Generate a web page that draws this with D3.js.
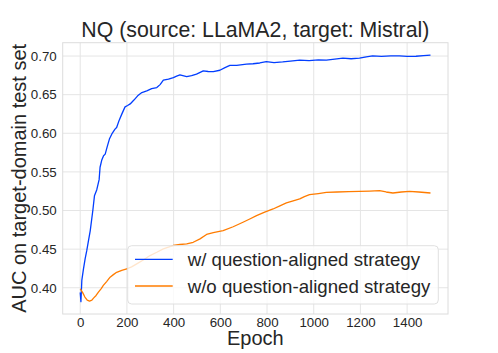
<!DOCTYPE html>
<html><head><meta charset="utf-8">
<script src="https://cdn.jsdelivr.net/npm/d3@7"></script>
<style>
html,body{margin:0;padding:0;background:#fff;}
text{font-family:"Liberation Sans",Arial,sans-serif;fill:#262626;}
</style></head>
<body><svg id="c" width="498" height="353"></svg>
<script>
const title = "NQ (source: LLaMA2, target: Mistral)";
const xLabel = "Epoch";
const yLabel = "AUC on target-domain test set";
const seriesNames = ["w/ question-aligned strategy", "w/o question-aligned strategy"];
const seriesColors = ["#023eff", "#ff7c00"];
const xTicks = [0, 200, 400, 600, 800, 1000, 1200, 1400];
const yTicks = [0.40, 0.45, 0.50, 0.55, 0.60, 0.65, 0.70];

const epochsWith = [0,3,7,14,21,28,36,43,54,61,71,81,85,92,100,107,116,125,137,149,156,167,178,192,203,214,230,246,264,285,306,328,342,356,378,399,413,427,456,477,498,527,548,570,598,620,641,670,712,740,769,797,830,867,900,940,980,1020,1054,1090,1125,1160,1196,1225,1252,1290,1330,1367,1400,1438,1470,1500];
const aucWith = [0.394,0.382,0.41,0.4245,0.4375,0.448,0.462,0.474,0.500,0.519,0.527,0.540,0.556,0.565,0.571,0.573,0.583,0.5925,0.600,0.6054,0.6075,0.617,0.6248,0.6342,0.636,0.638,0.643,0.6485,0.6527,0.655,0.6579,0.6592,0.663,0.6687,0.670,0.6721,0.674,0.6756,0.6734,0.6745,0.6765,0.6808,0.680,0.6798,0.6816,0.685,0.6878,0.688,0.6894,0.690,0.691,0.6928,0.6915,0.6924,0.6935,0.6946,0.6940,0.6950,0.6946,0.696,0.6972,0.6965,0.6972,0.699,0.7001,0.6995,0.7003,0.7001,0.6995,0.6997,0.7005,0.7013];

const epochsWithout = [0,10,20,30,40,50,57,68,78,90,99,113,128,142,156,178,199,220,242,270,299,328,356,378,398,427,456,484,513,541,570,612,655,697,726,755,790,826,855,883,912,940,960,982,1020,1054,1100,1150,1196,1240,1282,1310,1339,1375,1410,1450,1500];
const aucWithout = [0.3987,0.394,0.388,0.384,0.3827,0.384,0.3866,0.390,0.3943,0.399,0.403,0.408,0.4137,0.417,0.420,0.4225,0.4245,0.427,0.431,0.436,0.4417,0.446,0.4504,0.4527,0.4547,0.456,0.4568,0.4589,0.4633,0.4690,0.4715,0.474,0.479,0.4848,0.489,0.4934,0.498,0.502,0.506,0.5098,0.5125,0.515,0.518,0.5205,0.522,0.5235,0.5240,0.5245,0.5248,0.5252,0.5257,0.524,0.5227,0.524,0.5248,0.5240,0.5227];

const series = [
  {name: seriesNames[0], color: seriesColors[0], pts: epochsWith.map((e,i)=>[e, aucWith[i]])},
  {name: seriesNames[1], color: seriesColors[1], pts: epochsWithout.map((e,i)=>[e, aucWithout[i]])}
];

const svg = d3.select("#c");
const L = 62.7, R = 448, T = 42.7, B = 314;

const allX = series.flatMap(s=>s.pts.map(p=>p[0]));
const allY = series.flatMap(s=>s.pts.map(p=>p[1]));
const [x0,x1] = d3.extent(allX), [y0,y1] = d3.extent(allY);
const mx = (x1-x0)*0.05, my = (y1-y0)*0.05;
const x = d3.scaleLinear().domain([x0-mx, x1+mx]).range([L, R]);
const y = d3.scaleLinear().domain([y0-my, y1+my]).range([B, T]);

// grid
const g = svg.append("g");
g.selectAll(".gx").data(xTicks).join("line")
  .attr("x1", d=>x(d)).attr("x2", d=>x(d)).attr("y1", T).attr("y2", B)
  .attr("stroke", "#e5e5e5").attr("stroke-width", 1);
g.selectAll(".gy").data(yTicks).join("line")
  .attr("y1", d=>y(d)).attr("y2", d=>y(d)).attr("x1", L).attr("x2", R)
  .attr("stroke", "#e5e5e5").attr("stroke-width", 1);

// spines
svg.append("rect").attr("x", L).attr("y", T).attr("width", R-L).attr("height", B-T)
  .attr("fill", "none").attr("stroke", "#dcdcdc").attr("stroke-width", 1);

// axes tick labels via d3 axes
const xAxis = svg.append("g").attr("transform", `translate(0,${B})`)
  .call(d3.axisBottom(x).tickValues(xTicks).tickSize(0).tickPadding(4).tickFormat(d3.format("d")));
xAxis.select(".domain").remove();
xAxis.selectAll("text").attr("font-size", "13.3px").style("font-family", '"Liberation Sans",Arial,sans-serif').attr("fill", "#262626");

const yAxis = svg.append("g").attr("transform", `translate(${L},0)`)
  .call(d3.axisLeft(y).tickValues(yTicks).tickSize(0).tickPadding(6).tickFormat(d3.format(".2f")));
yAxis.select(".domain").remove();
yAxis.selectAll("text").attr("font-size", "13.3px").style("font-family", '"Liberation Sans",Arial,sans-serif').attr("fill", "#262626");

// lines
const line = d3.line().x(d=>x(d[0])).y(d=>y(d[1]));
svg.selectAll(".series").data(series).join("path")
  .attr("d", d=>line(d.pts)).attr("fill", "none")
  .attr("stroke", d=>d.color).attr("stroke-width", 1.3).attr("stroke-linejoin", "round");

// title & labels
svg.append("text").attr("x", (L+R)/2).attr("y", 37).attr("text-anchor", "middle")
  .attr("font-size", "21.3px").text(title);
svg.append("text").attr("x", (L+R)/2).attr("y", 345).attr("text-anchor", "middle")
  .attr("font-size", "20px").text(xLabel);
svg.append("text").attr("transform", `translate(26,${(T+B)/2}) rotate(-90)`).attr("text-anchor", "middle")
  .attr("font-size", "20px").text(yLabel);

// legend
const lg = svg.append("g");
lg.append("rect").attr("x", 127.7).attr("y", 245.7).attr("width", 310.6).attr("height", 58.3)
  .attr("rx", 4).attr("fill", "rgba(255,255,255,0.8)").attr("stroke", "#e0e0e0").attr("stroke-width", 1);
const items = lg.selectAll(".it").data(series).join("g")
  .attr("transform", (d,i)=>`translate(0,${259.3 + i*26.7})`);
items.append("line").attr("x1", 135).attr("x2", 172.7).attr("y1", 0).attr("y2", 0)
  .attr("stroke", d=>d.color).attr("stroke-width", 1.3);
items.append("text").attr("x", 187.7).attr("y", 0).attr("dy", "0.35em")
  .attr("font-size", "18.67px").text(d=>d.name);
</script>
</body></html>
